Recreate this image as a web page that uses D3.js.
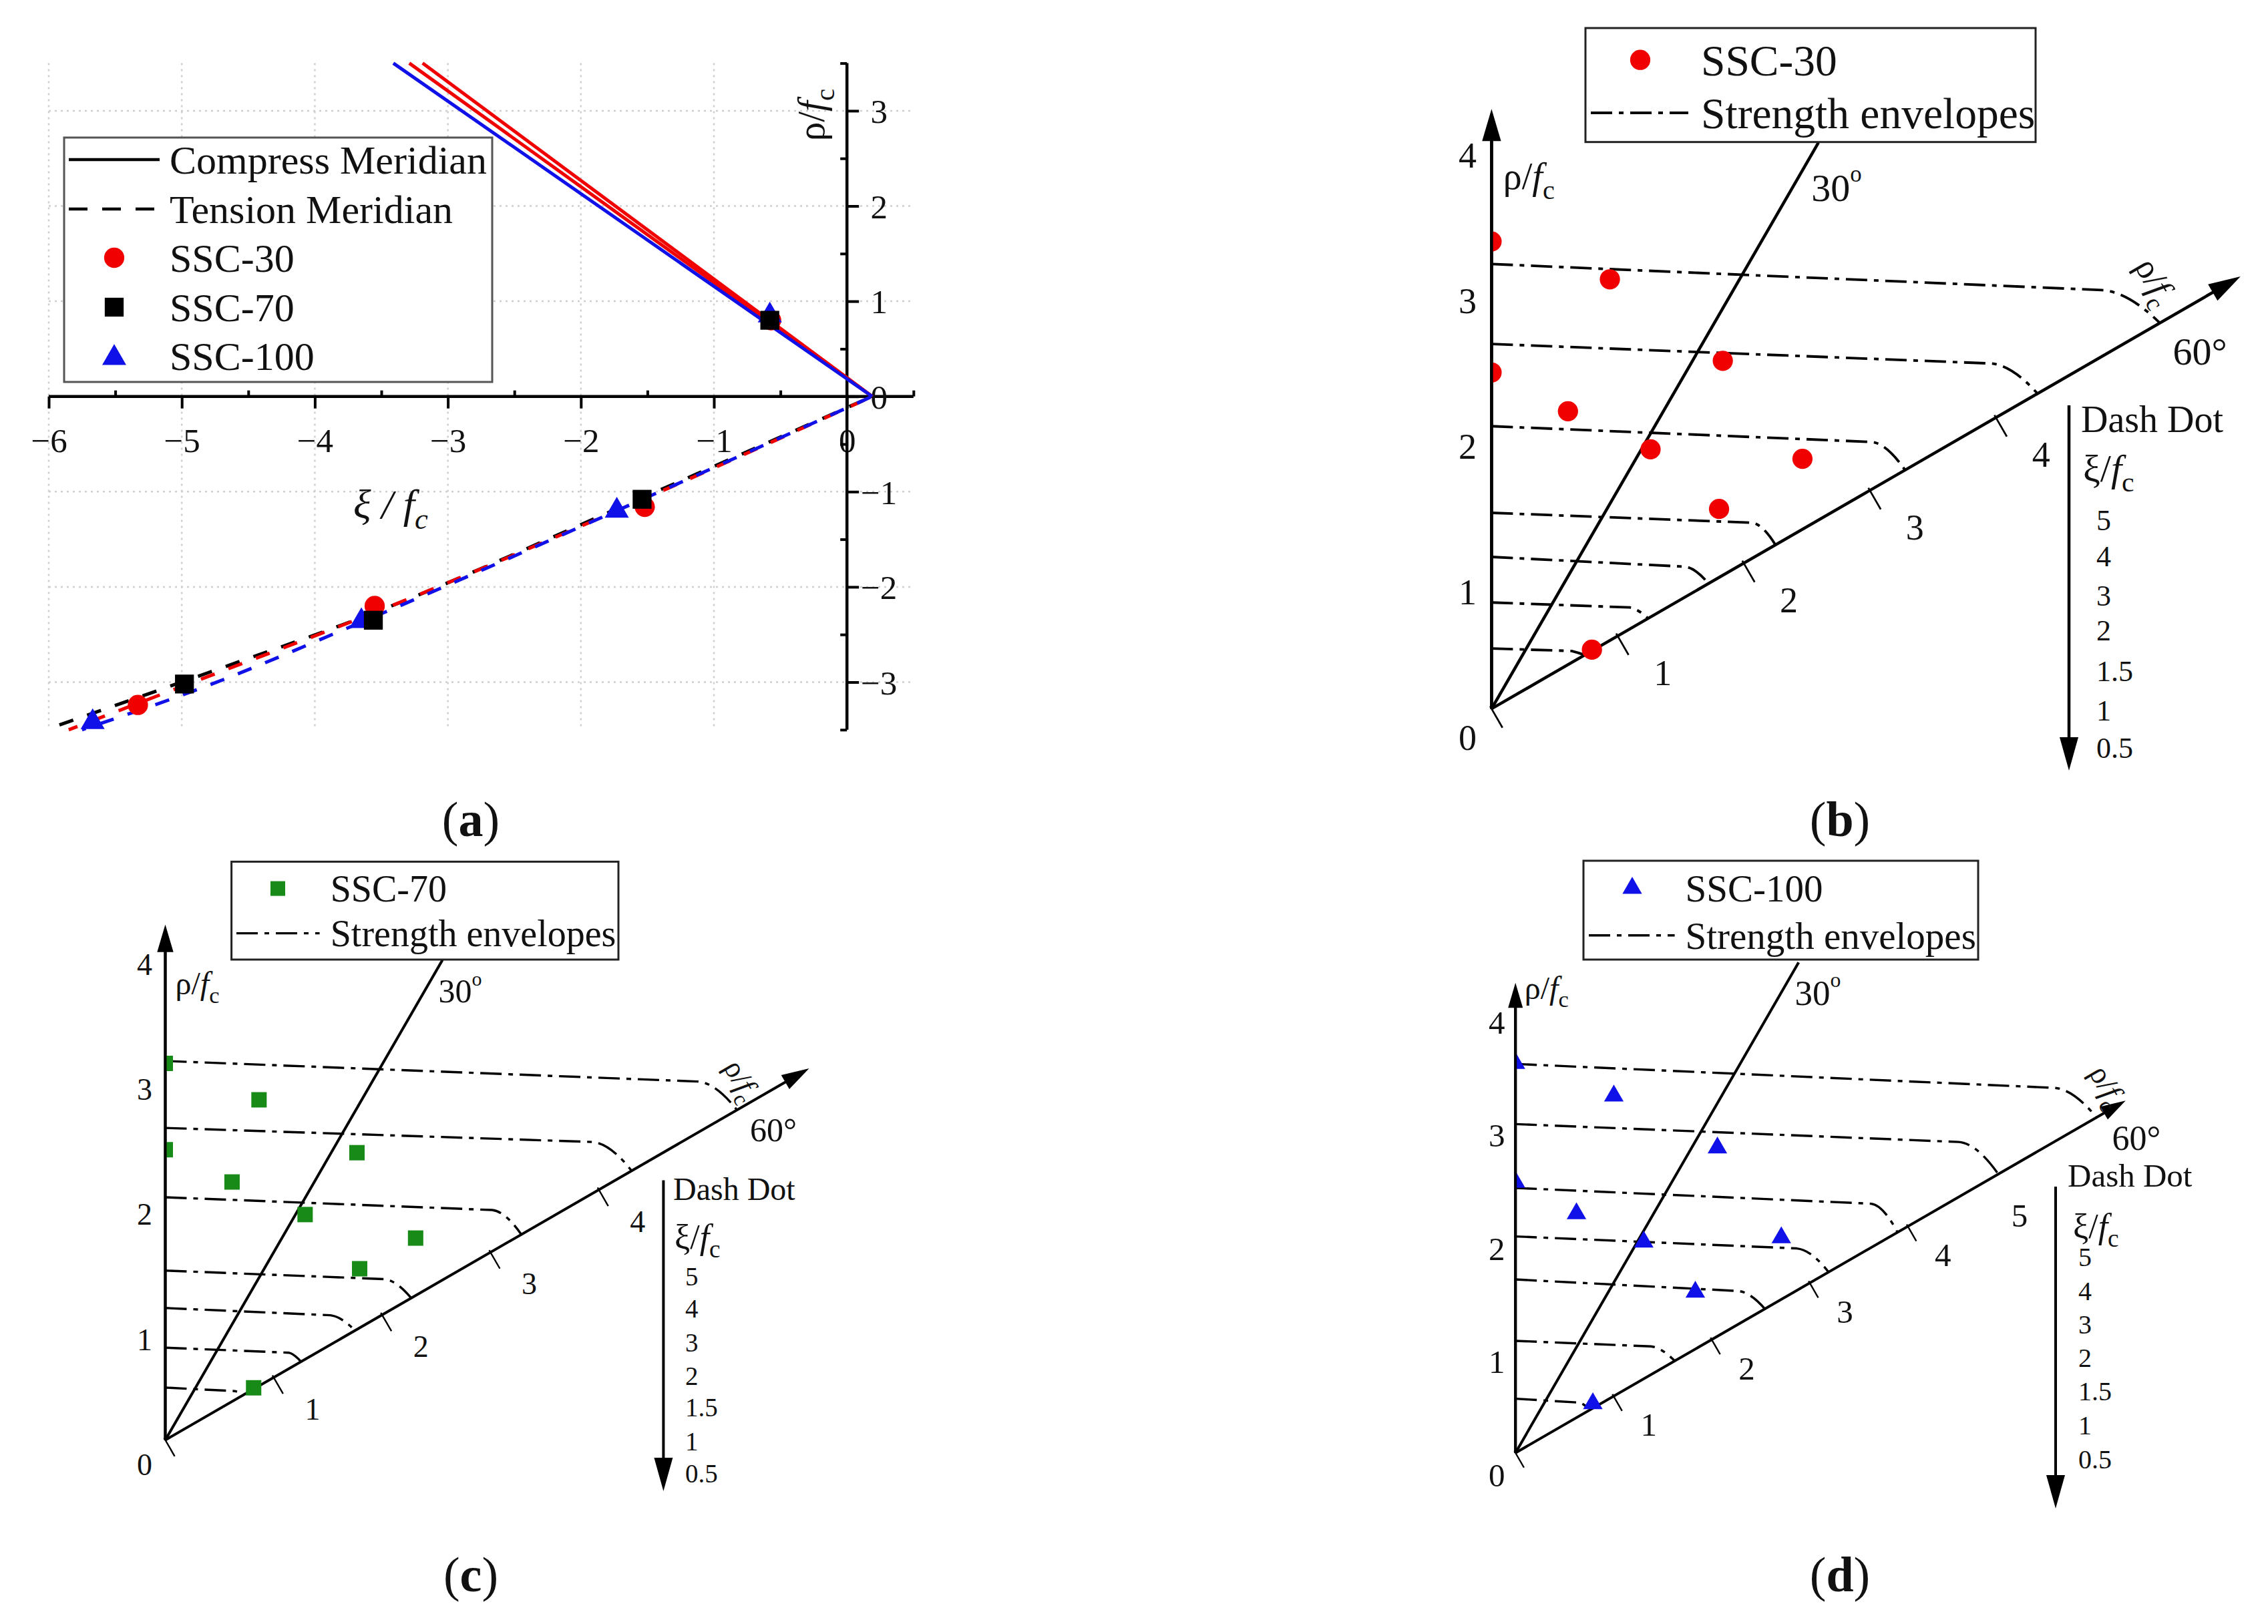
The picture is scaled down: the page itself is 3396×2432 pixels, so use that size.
<!DOCTYPE html>
<html><head><meta charset="utf-8">
<script src="https://cdn.jsdelivr.net/npm/d3@7"></script>
<style>
body{margin:0;background:#fff}
svg{display:block}
text{font-family:"Liberation Serif","Times New Roman",serif;fill:#111}
</style>
</head><body>
<svg id="c" width="3396" height="2432"></svg>
<script>
// ================= DATA: panel (a) =================
const xiTickValues  = [-6, -5, -4, -3, -2, -1, 0];
const rhoTickValues = [-3, -2, -1, 0, 1, 2, 3];
const legendLabelsA = ["Compress Meridian", "Tension Meridian", "SSC-30", "SSC-70", "SSC-100"];

const ssc30Xi  = [-0.57, -1.52, -3.55, -5.33];
const ssc30Rho = [ 0.80, -1.16, -2.20, -3.24];
const ssc70Xi  = [-0.58, -1.54, -3.56, -4.98];
const ssc70Rho = [ 0.80, -1.08, -2.35, -3.02];
const ssc100Xi  = [-0.58, -1.73, -3.65, -5.67];
const ssc100Rho = [ 0.85, -1.20, -2.36, -3.42];

// compression meridians (solid lines)
const compressXi  = [[0.19, -3.19], [0.19, -3.29], [0.19, -3.41]];
const compressRho = [[0, 3.5], [0, 3.5], [0, 3.5]];
const compressColors = ["#f00000", "#f00000", "#1010e8"];

// tension meridians (dashed lines)
const tensionBlackXi  = [0.19, -1.55, -3.57, -4.80, -5.92];
const tensionBlackRho = [0, -1.07, -2.28, -2.90, -3.45];
const tensionRedXi    = [0.19, -1.55, -3.57, -4.80, -5.85];
const tensionRedRho   = [0, -1.09, -2.28, -2.94, -3.50];
const tensionBlueXi   = [0.19, -1.73, -3.65, -4.83, -5.75];
const tensionBlueRho  = [0, -1.20, -2.37, -3.05, -3.50];

// ================= DATA: deviatoric planes (b)(c)(d) =================
const xiLevels     = ["5", "4", "3", "2", "1.5", "1", "0.5"];
const radialTicks  = [0, 1, 2, 3, 4];
const axis60TicksBC = [1, 2, 3, 4];
const axis60TicksD  = [1, 2, 3, 4, 5];

// test points: radius rho/fc and angle from the vertical axis (deg)
const ssc30PlaneRho   = [3.21, 3.06, 2.31, 2.87, 2.11, 2.09, 2.74, 2.08, 0.80];
const ssc30PlaneTheta = [0, 15.4, 0, 33.6, 14.4, 31.5, 51.2, 48.7, 59.5];
const ssc70PlaneRho   = [3.01, 2.82, 2.32, 2.13, 2.76, 2.12, 2.57, 2.07, 0.82];
const ssc70PlaneTheta = [0, 15.4, 0, 14.5, 33.7, 31.8, 51.1, 48.6, 59.4];
const ssc100PlaneRho   = [3.44, 3.27, 3.23, 2.39, 2.18, 2.18, 3.02, 2.13, 0.81];
const ssc100PlaneTheta = [0, 15.4, 33.5, 0, 14.3, 31.3, 51.0, 48.2, 57.5];

// strength envelopes (one per xi/fc level, top = 5)
const env30Start = [3.055, 2.506, 1.941, 1.346, 1.043, 0.730, 0.414];
const env30KneeU = [4.19, 3.43, 2.61, 1.79, 1.33, 0.95, 0.55];
const env30KneeV = [2.876, 2.372, 1.833, 1.278, 0.976, 0.696, 0.397];
const env30EndU  = [4.59, 3.75, 2.84, 1.95, 1.49, 1.075, 0.64];

const env70Start = [3.029, 2.494, 1.940, 1.354, 1.055, 0.738, 0.419];
const env70KneeU = [4.255, 3.413, 2.611, 1.750, 1.319, 0.986, 0.556];
const env70KneeV = [2.865, 2.382, 1.838, 1.286, 0.997, 0.698, 0.391];
const env70EndU  = [4.568, 3.726, 2.845, 1.965, 1.515, 1.084, 0.634];

const env100Start = [3.434, 2.903, 2.339, 1.911, 1.531, 0.989, 0.478];
const env100KneeU = [4.755, 3.912, 3.139, 2.483, 1.968, 1.195, 0.562];
const env100KneeV = [3.223, 2.745, 2.200, 1.805, 1.429, 0.940, 0.444];
const env100EndU  = [5.130, 4.263, 3.373, 2.764, 2.202, 1.406, 0.656];

// ================= DRAWING =================
const svg = d3.select("#c");
svg.append("rect").attr("width", 3396).attr("height", 2432).attr("fill", "#fff");

function rich(g, x, y, parts, size, opts = {}) {
  const t = g.append("text").attr("font-size", size)
    .attr("text-anchor", opts.anchor || "start");
  if (opts.rotate !== undefined) {
    t.attr("transform", `translate(${x},${y}) rotate(${opts.rotate})`).attr("x", 0).attr("y", 0);
  } else {
    t.attr("x", x).attr("y", y);
  }
  if (opts.italic) t.attr("font-style", "italic");
  parts.forEach(p => {
    const ts = t.append("tspan").text(p.t);
    if (p.i) ts.attr("font-style", "italic");
    if (p.sub) ts.attr("font-size", size * 0.72).attr("dy", size * 0.26);
    if (p.sup) ts.attr("font-size", size * 0.6).attr("dy", -size * 0.42);
  });
  return t;
}

// ---------- panel (a) ----------
(function panelA() {
  const g = svg.append("g");
  const x = d3.scaleLinear().domain([-6, 0.5]).range([73, 1367.8]);
  const y = d3.scaleLinear().domain([-3.5, 3.5]).range([1092.8, 94.6]);

  // dotted grid
  g.append("g").selectAll("line").data(xiTickValues.filter(d => d !== 0)).join("line")
    .attr("x1", d => x(d)).attr("x2", d => x(d)).attr("y1", y(3.5)).attr("y2", y(-3.5))
    .attr("stroke", "#cfcfcf").attr("stroke-width", 2.5).attr("stroke-dasharray", "3,6");
  g.append("g").selectAll("line").data(rhoTickValues.filter(d => d !== 0)).join("line")
    .attr("x1", x(-6)).attr("x2", x(0.5)).attr("y1", d => y(d)).attr("y2", d => y(d))
    .attr("stroke", "#cfcfcf").attr("stroke-width", 2.5).attr("stroke-dasharray", "3,6");

  // x axis
  const fmt = d3.format("d");
  const xAx = g.append("g").attr("transform", `translate(0,${y(0)})`)
    .call(d3.axisBottom(x).tickValues(xiTickValues).tickSize(18).tickFormat(fmt));
  xAx.select(".domain").remove();
  xAx.selectAll("line").attr("stroke", "#000").attr("stroke-width", 4);
  xAx.selectAll("text").attr("font-size", 51).attr("y", 65).attr("dy", "0.35em")
    .attr("font-family", '"Liberation Serif",serif').attr("fill", "#111");
  const xMin = g.append("g").attr("transform", `translate(0,${y(0)})`)
    .call(d3.axisBottom(x).tickValues([-5.5, -4.5, -3.5, -2.5, -1.5, -0.5, 0.5]).tickSize(-9).tickFormat(""));
  xMin.select(".domain").remove();
  xMin.selectAll("line").attr("stroke", "#000").attr("stroke-width", 4);
  g.append("line").attr("x1", x(-6)).attr("x2", x(0.5)).attr("y1", y(0)).attr("y2", y(0))
    .attr("stroke", "#000").attr("stroke-width", 4.5);

  // y axis
  const yAx = g.append("g").attr("transform", `translate(${x(0)},0)`)
    .call(d3.axisRight(y).tickValues(rhoTickValues).tickSize(18).tickFormat(fmt));
  yAx.select(".domain").remove();
  yAx.selectAll("line").attr("stroke", "#000").attr("stroke-width", 4);
  yAx.selectAll("text").attr("font-size", 51).attr("x", 48).attr("dy", "0.35em")
    .attr("text-anchor", "middle").attr("font-family", '"Liberation Serif",serif').attr("fill", "#111");
  const yMin = g.append("g").attr("transform", `translate(${x(0)},0)`)
    .call(d3.axisRight(y).tickValues([-3.5, -2.5, -1.5, -0.5, 0.5, 1.5, 2.5, 3.5]).tickSize(-10).tickFormat(""));
  yMin.select(".domain").remove();
  yMin.selectAll("line").attr("stroke", "#000").attr("stroke-width", 4);
  g.append("line").attr("x1", x(0)).attr("x2", x(0)).attr("y1", y(3.5)).attr("y2", y(-3.5))
    .attr("stroke", "#000").attr("stroke-width", 4.5);

  // axis titles
  rich(g, 585, 776, [{ t: "ξ / f" }, { t: "c", sub: true }], 62, { anchor: "middle", italic: true });
  rich(g, 1234, 172, [{ t: "ρ/" }, { t: "f", i: true }, { t: "c", sub: true }], 57, { anchor: "middle", rotate: -90 });

  // compression meridians
  const line = d3.line().x(d => x(d[0])).y(d => y(d[1]));
  compressXi.forEach((xs, i) => {
    g.append("path").datum(xs.map((v, j) => [v, compressRho[i][j]])).attr("d", line)
      .attr("fill", "none").attr("stroke", compressColors[i]).attr("stroke-width", 5);
  });
  // tension meridians
  const curve = d3.line().curve(d3.curveMonotoneX).x(d => x(d[0])).y(d => y(d[1]));
  [[tensionBlackXi, tensionBlackRho, "#000"], [tensionRedXi, tensionRedRho, "#f00000"],
   [tensionBlueXi, tensionBlueRho, "#1010e8"]].forEach(([xs, ys, col], k) => {
    const pts = xs.map((v, j) => [v, ys[j]]).sort((a, b) => a[0] - b[0]);
    g.append("path").datum(pts).attr("d", curve).attr("fill", "none")
      .attr("stroke", col).attr("stroke-width", 5).attr("stroke-dasharray", "22,22")
      .attr("stroke-dashoffset", k * 8);
  });

  // markers
  const circ = d3.symbol().type(d3.symbolCircle).size(720)();
  const sq = d3.symbol().type(d3.symbolSquare).size(800)();
  const tri = d3.symbol().type(d3.symbolTriangle).size(560)();
  g.append("g").selectAll("path").data(ssc30Xi.map((v, i) => [v, ssc30Rho[i]])).join("path")
    .attr("d", circ).attr("transform", d => `translate(${x(d[0])},${y(d[1])})`).attr("fill", "#f00000");
  g.append("g").selectAll("path").data(ssc100Xi.map((v, i) => [v, ssc100Rho[i]])).join("path")
    .attr("d", tri).attr("transform", d => `translate(${x(d[0])},${y(d[1])})`).attr("fill", "#1010e8");
  g.append("g").selectAll("path").data(ssc70Xi.map((v, i) => [v, ssc70Rho[i]])).join("path")
    .attr("d", sq).attr("transform", d => `translate(${x(d[0])},${y(d[1])})`).attr("fill", "#000");

  // legend
  const lg = g.append("g");
  lg.append("rect").attr("x", 96).attr("y", 206).attr("width", 641).attr("height", 366)
    .attr("fill", "#fff").attr("stroke", "#555").attr("stroke-width", 3);
  const ly = [239, 313, 386, 460, 533];
  lg.append("line").attr("x1", 103).attr("x2", 239).attr("y1", ly[0]).attr("y2", ly[0])
    .attr("stroke", "#000").attr("stroke-width", 4.5);
  lg.append("line").attr("x1", 103).attr("x2", 239).attr("y1", ly[1]).attr("y2", ly[1])
    .attr("stroke", "#000").attr("stroke-width", 4.5).attr("stroke-dasharray", "28,22");
  lg.append("path").attr("d", circ).attr("transform", `translate(171,${ly[2]})`).attr("fill", "#f00000");
  lg.append("path").attr("d", sq).attr("transform", `translate(171,${ly[3]})`).attr("fill", "#000");
  lg.append("path").attr("d", tri).attr("transform", `translate(171,${ly[4] + 3})`).attr("fill", "#1010e8");
  legendLabelsA.forEach((s, i) => {
    lg.append("text").attr("x", 254).attr("y", ly[i]).attr("dy", "0.35em").attr("font-size", 60).text(s);
  });
})();

// ---------- deviatoric plane panels ----------
function planePanel(cfg) {
  const { ox, oy, unit } = cfg;
  const g = svg.append("g");
  const x = d3.scaleLinear().domain([0, 1]).range([ox, ox + unit]);
  const y = d3.scaleLinear().domain([0, 1]).range([oy, oy - unit]);
  const rad = Math.PI / 180;
  const SW = cfg.sw;

  function arrowHead(tx, ty, dx, dy) {
    const L = 0.22 * unit, Wd = 0.065 * unit;
    const bx = tx - dx * L, by = ty - dy * L;
    const px = -dy, py = dx;
    return `M${tx},${ty}L${bx + px * Wd},${by + py * Wd}L${bx - px * Wd},${by - py * Wd}Z`;
  }

  // vertical axis
  g.append("line").attr("x1", x(0)).attr("y1", y(0)).attr("x2", x(0)).attr("y2", y(cfg.lenV - 0.15))
    .attr("stroke", "#000").attr("stroke-width", SW);
  g.append("path").attr("d", arrowHead(x(0), y(cfg.lenV), 0, -1)).attr("fill", "#000");
  // 60° axis
  const u60 = Math.sin(60 * rad), v60 = Math.cos(60 * rad);
  g.append("line").attr("x1", x(0)).attr("y1", y(0))
    .attr("x2", x((cfg.len60 - 0.15) * u60)).attr("y2", y((cfg.len60 - 0.15) * v60))
    .attr("stroke", "#000").attr("stroke-width", SW);
  const tdx = x(u60) - x(0), tdy = y(v60) - y(0), tn = Math.hypot(tdx, tdy);
  g.append("path").attr("d", arrowHead(x(cfg.len60 * u60), y(cfg.len60 * v60), tdx / tn, tdy / tn)).attr("fill", "#000");
  // 30° line
  g.append("line").attr("x1", x(0)).attr("y1", y(0))
    .attr("x2", x(cfg.len30 * Math.sin(30 * rad))).attr("y2", y(cfg.len30 * Math.cos(30 * rad)))
    .attr("stroke", "#000").attr("stroke-width", SW);

  // ticks on the 60° axis (perpendicular, lower side)
  const pxn = 0.5, pyn = 0.866;
  g.append("g").selectAll("line").data([0, 1, 2, 3, 4]).join("line")
    .attr("x1", d => x(d * u60) - pxn * 0.02 * unit).attr("y1", d => y(d * v60) - pyn * 0.02 * unit)
    .attr("x2", d => x(d * u60) + pxn * 0.15 * unit).attr("y2", d => y(d * v60) + pyn * 0.15 * unit)
    .attr("stroke", "#000").attr("stroke-width", SW * 0.6);
  g.append("g").selectAll("text").data(cfg.axisTicks).join("text")
    .attr("x", d => x(d * u60) + (d === 5 ? 0.12 : 0.31) * unit)
    .attr("y", d => y(d * v60) + (d === 5 ? 0.40 : 0.25) * unit)
    .attr("dy", "0.35em").attr("text-anchor", "middle").attr("font-size", cfg.tickFont).text(d => d);
  // radial labels on vertical axis
  g.append("g").selectAll("text").data(radialTicks).join("text")
    .attr("x", x(0) - 0.165 * unit).attr("y", d => y(d) + 0.195 * unit)
    .attr("dy", "0.35em").attr("text-anchor", "middle").attr("font-size", cfg.tickFont).text(d => d);

  // axis labels
  rich(g, x(0.08), y(cfg.rhoLabelV), [{ t: "ρ/" }, { t: "f", i: true }, { t: "c", sub: true }], cfg.rhoFont);
  rich(g, cfg.lab30[0], cfg.lab30[1], [{ t: "30" }, { t: "o", sup: true }], cfg.lab30[2], { anchor: "middle" })
    .attr("dominant-baseline", "middle");
  g.append("text").attr("x", cfg.lab60[0]).attr("y", cfg.lab60[1]).attr("dy", "0.35em")
    .attr("text-anchor", "middle").attr("font-size", cfg.lab60[2]).text("60°");
  rich(g, cfg.rot[0], cfg.rot[1], [{ t: "ρ/" }, { t: "f", i: true }, { t: "c", sub: true }], cfg.rot[2],
    { anchor: "middle", rotate: 60 }).attr("dy", "0.3em");

  // strength envelopes
  const t30 = Math.tan(30 * rad);
  cfg.envStart.forEach((v0, i) => {
    const ku = cfg.envKneeU[i], kv = cfg.envKneeV[i], eu = cfg.envEndU[i];
    const p = d3.path();
    p.moveTo(x(0), y(v0));
    p.lineTo(x(ku), y(kv));
    p.quadraticCurveTo(x(ku + 0.45 * (eu - ku)), y(kv - 0.01), x(eu), y(eu * t30));
    g.append("path").attr("d", p.toString()).attr("fill", "none").attr("stroke", "#000")
      .attr("stroke-width", SW * 0.85).attr("stroke-dasharray", "32,10,7,10");
  });

  // points (clipped to the right of the vertical axis)
  const clipId = "clip" + cfg.id;
  g.append("clipPath").attr("id", clipId).append("rect")
    .attr("x", x(0)).attr("y", 0).attr("width", 3000).attr("height", 2432);
  const sym = d3.symbol().type(cfg.symbol).size(cfg.symSize)();
  g.append("g").attr("clip-path", `url(#${clipId})`).selectAll("path")
    .data(cfg.rho.map((r, i) => [r * Math.sin(cfg.theta[i] * rad), r * Math.cos(cfg.theta[i] * rad)]))
    .join("path").attr("d", sym).attr("transform", d => `translate(${x(d[0])},${y(d[1])})`)
    .attr("fill", cfg.color);
  // redraw vertical axis line on top
  g.append("line").attr("x1", x(0)).attr("y1", y(0)).attr("x2", x(0)).attr("y2", y(cfg.lenV - 0.15))
    .attr("stroke", "#000").attr("stroke-width", SW);

  // legend box
  const L = cfg.legend;
  g.append("rect").attr("x", L.x0).attr("y", L.y0).attr("width", L.x1 - L.x0).attr("height", L.y1 - L.y0)
    .attr("fill", "#fff").attr("stroke", "#222").attr("stroke-width", 3);
  g.append("path").attr("d", d3.symbol().type(cfg.symbol).size(L.symSize)())
    .attr("transform", `translate(${L.mx},${L.my})`).attr("fill", cfg.color);
  g.append("text").attr("x", L.tx).attr("y", L.my).attr("dy", "0.35em").attr("font-size", L.font).text(cfg.name);
  g.append("line").attr("x1", L.lx0).attr("x2", L.lx1).attr("y1", L.ly).attr("y2", L.ly)
    .attr("stroke", "#000").attr("stroke-width", SW * 0.85).attr("stroke-dasharray", "32,10,7,10");
  g.append("text").attr("x", L.tx).attr("y", L.ly).attr("dy", "0.35em").attr("font-size", L.font)
    .text("Strength envelopes");

  // Dash Dot key
  const D = cfg.dash;
  g.append("line").attr("x1", D.ax).attr("x2", D.ax).attr("y1", D.ay0).attr("y2", D.ay1 - 40)
    .attr("stroke", "#000").attr("stroke-width", SW);
  const hL = 50, hW = 14;
  g.append("path").attr("d", `M${D.ax},${D.ay1}L${D.ax - hW},${D.ay1 - hL}L${D.ax + hW},${D.ay1 - hL}Z`).attr("fill", "#000");
  g.append("text").attr("x", D.tx).attr("y", D.t1y).attr("dy", "0.35em").attr("font-size", D.font1).text("Dash Dot");
  rich(g, D.t2x, D.t2y + D.font2 * 0.3, [{ t: "ξ/" }, { t: "f", i: true }, { t: "c", sub: true }], D.font2);
  g.append("g").selectAll("text").data(xiLevels).join("text")
    .attr("x", D.lx).attr("y", (d, i) => D.ly[i]).attr("dy", "0.35em").attr("font-size", D.lfont).text(d => d);
}

planePanel({
  id: "b", ox: 2233.4, oy: 1061.4, unit: 218, lenV: 4.12, len60: 5.94, len30: 4.49, sw: 4.5,
  tickFont: 54, rhoLabelV: 3.57, rhoFont: 56,
  lab30: [2750, 288, 58], lab60: [3294, 526, 58], rot: [3227, 422, 52],
  axisTicks: axis60TicksBC,
  envStart: env30Start, envKneeU: env30KneeU, envKneeV: env30KneeV, envEndU: env30EndU,
  rho: ssc30PlaneRho, theta: ssc30PlaneTheta, symbol: d3.symbolCircle, symSize: 720,
  color: "#f00000", name: "SSC-30",
  legend: { x0: 2374, y0: 42, x1: 3048, y1: 212.7, mx: 2456, my: 89.7, tx: 2547, ly: 169, lx0: 2382, lx1: 2528, font: 65.5, symSize: 720 },
  dash: { ax: 3098, ay0: 607, ay1: 1154, tx: 3116, t1y: 627, font1: 56, t2x: 3119, t2y: 704, font2: 58,
    lx: 3139, ly: [779, 833, 892, 944, 1005, 1064, 1120], lfont: 44 }
});
planePanel({
  id: "c", ox: 247.5, oy: 2156.5, unit: 187.4, lenV: 4.12, len60: 5.94, len30: 4.43, sw: 4,
  tickFont: 46, rhoLabelV: 3.56, rhoFont: 48,
  lab30: [689, 1490, 50], lab60: [1158, 1691, 50], rot: [1110, 1618, 45],
  axisTicks: axis60TicksBC,
  envStart: env70Start, envKneeU: env70KneeU, envKneeV: env70KneeV, envEndU: env70EndU,
  rho: ssc70PlaneRho, theta: ssc70PlaneTheta, symbol: d3.symbolSquare, symSize: 530,
  color: "#178a17", name: "SSC-70",
  legend: { x0: 346.6, y0: 1290.4, x1: 926, y1: 1437, mx: 416, my: 1330.6, tx: 494.7, ly: 1397.6, lx0: 354, lx1: 478.6, font: 56, symSize: 484 },
  dash: { ax: 993.4, ay0: 1767.5, ay1: 2233, tx: 1008, t1y: 1780, font1: 48, t2x: 1010, t2y: 1854, font2: 52,
    lx: 1026, ly: [1911, 1959, 2010, 2060, 2107, 2158, 2206], lfont: 39 }
});
planePanel({
  id: "d", ox: 2269.2, oy: 2175.7, unit: 169.6, lenV: 4.15, len60: 6.22, len30: 5.0, sw: 4,
  tickFont: 49, rhoLabelV: 4.01, rhoFont: 48,
  lab30: [2722, 1493, 53], lab60: [3199, 1704, 52], rot: [3155, 1627, 46],
  axisTicks: axis60TicksD,
  envStart: env100Start, envKneeU: env100KneeU, envKneeV: env100KneeV, envEndU: env100EndU,
  rho: ssc100PlaneRho, theta: ssc100PlaneTheta, symbol: d3.symbolTriangle, symSize: 370,
  color: "#1010e8", name: "SSC-100",
  legend: { x0: 2371, y0: 1289, x1: 2962, y1: 1437, mx: 2444, my: 1330, tx: 2523.5, ly: 1400.7, lx0: 2379, lx1: 2507.6, font: 57, symSize: 370 },
  dash: { ax: 3078, ay0: 1777, ay1: 2259, tx: 3096, t1y: 1760, font1: 49, t2x: 3104, t2y: 1838, font2: 52,
    lx: 3112, ly: [1882, 1933, 1983, 2033, 2083, 2134, 2185], lfont: 40 }
});

// ---------- panel captions ----------
[["a", 705, 1252], ["b", 2755, 1252], ["c", 705, 2383], ["d", 2755, 2383]].forEach(([l, cx, cy]) => {
  const t = svg.append("text").attr("x", cx).attr("y", cy).attr("text-anchor", "middle").attr("font-size", 74);
  t.append("tspan").text("(");
  t.append("tspan").attr("font-weight", "bold").text(l);
  t.append("tspan").text(")");
});
</script>
</body></html>
